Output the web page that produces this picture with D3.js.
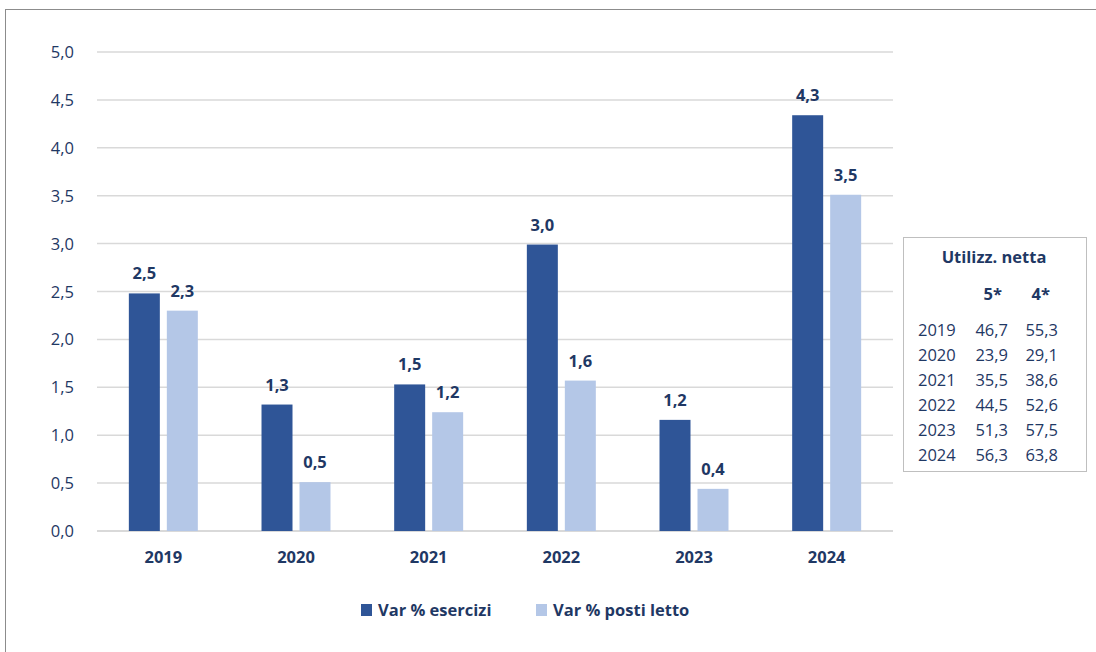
<!DOCTYPE html>
<html><head><meta charset="utf-8">
<script src="https://cdn.jsdelivr.net/npm/d3@7"></script>
<style>body{margin:0;background:#fff}svg{display:block}text{font-family:"Open Sans","Noto Sans",sans-serif}</style>
</head><body>
<script>
const categories = ["2019","2020","2021","2022","2023","2024"];
const esercizi = [2.48,1.32,1.53,2.99,1.16,4.34];
const postiLetto = [2.30,0.51,1.24,1.57,0.44,3.51];
const seriesNames = ["Var % esercizi","Var % posti letto"];
const yTicks = [0,0.5,1,1.5,2,2.5,3,3.5,4,4.5,5];
const tableTitle = "Utilizz. netta";
const tableHeads = ["5*","4*"];
const tableYears = ["2019","2020","2021","2022","2023","2024"];
const table5 = ["46,7","23,9","35,5","44,5","51,3","56,3"];
const table4 = ["55,3","29,1","38,6","52,6","57,5","63,8"];

const W=1096,H=652, navy="#1f3864", c1="#2f5597", c2="#b4c7e7", FS=16.5;
const svg=d3.select("body").append("svg").attr("width",W).attr("height",H);
svg.append("rect").attr("x",5.5).attr("y",9.5).attr("width",1200).attr("height",800).attr("fill","none").attr("stroke","#8c8c8c");

const x=d3.scaleBand().domain(categories).range([97,893]);
const y=d3.scaleLinear().domain([0,5]).range([531,52]);
const bw=x.bandwidth(), barW=bw*31/132.7, gap=bw*7/132.7, off=(bw-2*barW-gap)/2;
const bx=(i,si)=>x(categories[i])+off+si*(barW+gap);

svg.append("g").selectAll("line").data(yTicks).join("line")
 .attr("x1",97).attr("x2",893).attr("y1",d=>y(d)).attr("y2",d=>y(d))
 .attr("stroke","#d9d9d9").attr("stroke-width",d=>d===0?2:1.5);

svg.append("g").selectAll("text").data(yTicks).join("text")
 .attr("x",74).attr("y",d=>y(d)+6).attr("text-anchor","end").attr("fill",navy)
 .attr("font-size",FS).text(d=>d3.format(".1f")(d).replace(".",","));

svg.append("g").selectAll("text").data(categories).join("text")
 .attr("x",d=>x(d)+bw/2).attr("y",563).attr("text-anchor","middle")
 .attr("fill",navy).attr("font-size",FS).attr("font-weight","bold").text(d=>d);

const series=[esercizi,postiLetto], cols=[c1,c2];
series.forEach((vals,si)=>{
  const g=svg.append("g");
  g.selectAll("rect").data(vals).join("rect")
   .attr("x",(d,i)=>bx(i,si)).attr("width",barW)
   .attr("y",d=>y(d)).attr("height",d=>y(0)-y(d)).attr("fill",cols[si]);
  g.selectAll("text").data(vals).join("text")
   .attr("x",(d,i)=>bx(i,si)+barW/2).attr("y",d=>y(d)-14)
   .attr("text-anchor","middle").attr("fill",navy).attr("font-size",FS).attr("font-weight","bold")
   .text(d=>d3.format(".1f")(d).replace(".",","));
});

// legend
const leg=[{x:361,t:seriesNames[0],c:c1},{x:536,t:seriesNames[1],c:c2}];
leg.forEach(l=>{
  svg.append("rect").attr("x",l.x).attr("y",604).attr("width",11).attr("height",12).attr("fill",l.c);
  svg.append("text").attr("x",l.x+17).attr("y",616).attr("fill",navy).attr("font-size",FS).attr("font-weight","bold").text(l.t);
});

// table box
svg.append("rect").attr("x",903.5).attr("y",237.5).attr("width",183).attr("height",234).attr("fill","#fff").attr("stroke","#bfbfbf");
svg.append("text").attr("x",994).attr("y",263).attr("text-anchor","middle").attr("fill",navy).attr("font-size",FS).attr("font-weight","bold").text(tableTitle);
svg.append("text").attr("x",1002).attr("y",300).attr("text-anchor","end").attr("fill",navy).attr("font-size",FS).attr("font-weight","bold").text(tableHeads[0]);
svg.append("text").attr("x",1050).attr("y",300).attr("text-anchor","end").attr("fill",navy).attr("font-size",FS).attr("font-weight","bold").text(tableHeads[1]);
tableYears.forEach((yr,i)=>{
  const yy=336+i*25;
  svg.append("text").attr("x",918).attr("y",yy).attr("fill",navy).attr("font-size",FS).text(yr);
  svg.append("text").attr("x",1008).attr("y",yy).attr("text-anchor","end").attr("fill",navy).attr("font-size",FS).text(table5[i]);
  svg.append("text").attr("x",1058).attr("y",yy).attr("text-anchor","end").attr("fill",navy).attr("font-size",FS).text(table4[i]);
});
</script>
</body></html>
